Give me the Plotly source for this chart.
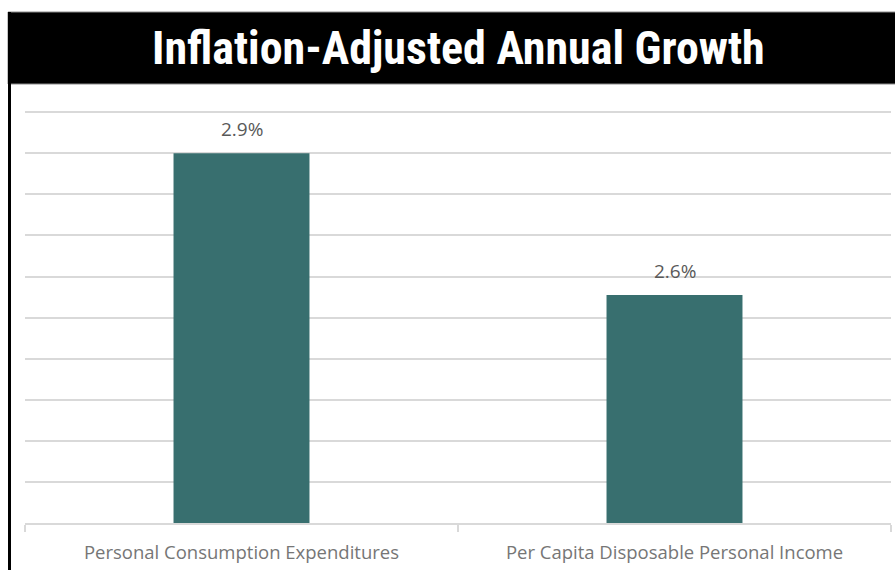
import plotly.graph_objects as go

categories = ["Personal Consumption Expenditures", "Per Capita Disposable Personal Income"]
values = [2.9, 2.555]
value_labels = ["2.9%", "2.6%"]
title_text = "Inflation-Adjusted Annual Growth"

W, H = 895, 570
L, R, T, B = 25, 4, 111, 47
pw, ph = W - L - R, H - T - B

def px(x):
    return (x - L) / pw

def py(y):
    return (H - B - y) / ph

bar_color = "#386f6f"
grid_color = "#d9d9d9"

fig = go.Figure()
fig.add_trace(go.Bar(
    x=categories, y=values, marker=dict(color=bar_color, line=dict(width=0)),
    width=0.314, hoverinfo="skip",
))

annotations = []
for c, v, t in zip(categories, values, value_labels):
    annotations.append(dict(
        x=c, y=v, xref="x", yref="y", text=t, showarrow=False,
        yanchor="bottom", yshift=9,
        font=dict(family="Open Sans", size=19, color="#595959"),
    ))
annotations.append(dict(
    x=px(458), y=py(48), xref="paper", yref="paper", text="<b>" + title_text + "</b>",
    showarrow=False, xanchor="center", yanchor="middle",
    font=dict(family="Liberation Sans Narrow, Roboto Condensed, Arial Narrow, sans-serif", size=46, color="white"),
))

shapes = [
    dict(type="rect", xref="paper", yref="paper", x0=px(8), x1=px(W + 2), y0=py(84), y1=py(12),
         fillcolor="black", line=dict(color="#8a8a8a", width=1), layer="above"),
    dict(type="line", xref="paper", yref="paper", x0=px(9.5), x1=px(9.5), y0=py(12), y1=py(H + 2),
         line=dict(color="black", width=3), layer="above"),
]

fig.update_layout(
    width=W, height=H,
    margin=dict(l=L, r=R, t=T, b=B, pad=0),
    paper_bgcolor="white", plot_bgcolor="white",
    showlegend=False,
    annotations=annotations, shapes=shapes,
    xaxis=dict(
        type="category", showgrid=False, showline=True, linecolor=grid_color, linewidth=1.5,
        ticks="outside", tickson="boundaries", ticklen=7, tickcolor=grid_color, tickwidth=1.5,
        tickfont=dict(family="Open Sans", size=18.5, color="#767676"),
        ticklabelstandoff=12,
    ),
    yaxis=dict(
        range=[2.0, 3.003], dtick=0.1, tick0=2.0, showticklabels=False, showgrid=True,
        gridcolor=grid_color, gridwidth=1.5, zeroline=False, showline=False, ticks="",
    ),
)

fig.write_html("out.html")
